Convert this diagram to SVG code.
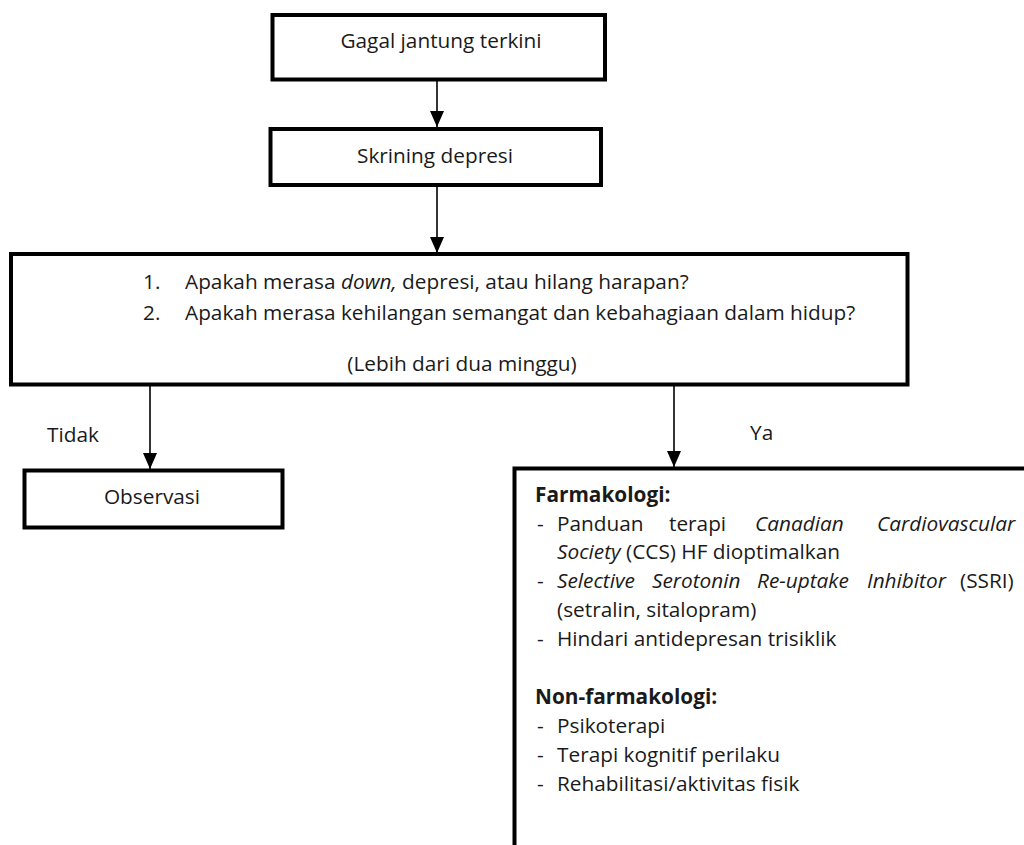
<svg xmlns="http://www.w3.org/2000/svg" width="1024" height="845" viewBox="0 0 1024 845">
<style>
.box{fill:#fff;stroke:#000;stroke-width:4}
.t{font-family:"Open Sans","Noto Sans",sans-serif;font-size:20.8px;fill:#1a1a1a}
.c{text-anchor:middle}
.i{font-style:italic}
.b{font-weight:bold}
.ln{stroke:#000;stroke-width:1.6;fill:none}
</style>
<defs>
<marker id="ah" markerUnits="userSpaceOnUse" markerWidth="16" markerHeight="14" refX="16" refY="7" orient="auto">
<path d="M0,0 L16,7 L0,14 Z" fill="#000"/>
</marker>
</defs>
<rect width="1024" height="845" fill="#fff"/>
<g id="connectors">
<line class="ln" x1="437" y1="81" x2="437" y2="127" marker-end="url(#ah)"/>
<line class="ln" x1="437" y1="187" x2="437" y2="253" marker-end="url(#ah)"/>
<line class="ln" x1="150" y1="386" x2="150" y2="469" marker-end="url(#ah)"/>
<line class="ln" x1="674" y1="386" x2="674" y2="467" marker-end="url(#ah)"/>
<text class="t" x="47" y="442">Tidak</text>
<text class="t" x="750" y="440">Ya</text>
</g>
<g id="node-gagal">
<rect class="box" x="272.5" y="15" width="332.5" height="64.5"/>
<text class="t c" x="441" y="48">Gagal jantung terkini</text>
</g>
<g id="node-skrining">
<rect class="box" x="270.5" y="129" width="330.5" height="56"/>
<text class="t c" x="435" y="163">Skrining depresi</text>
</g>
<g id="node-pertanyaan">
<rect class="box" x="11" y="254" width="896.5" height="130.5"/>
<text class="t" x="143" y="289">1.</text>
<text class="t" x="185" y="289">Apakah merasa <tspan class="i">down,</tspan> depresi, atau hilang harapan?</text>
<text class="t" x="143" y="320">2.</text>
<text class="t" x="185" y="320">Apakah merasa kehilangan semangat dan kebahagiaan dalam hidup?</text>
<text class="t c" x="462" y="371">(Lebih dari dua minggu)</text>
</g>
<g id="node-observasi">
<rect class="box" x="24.5" y="470.5" width="258" height="57"/>
<text class="t c" x="152" y="504">Observasi</text>
</g>
<g id="node-terapi">
<rect class="box" x="514.5" y="468.5" width="600" height="400"/>
<text class="t b" x="535" y="502">Farmakologi:</text>
<text class="t" x="537" y="531">-</text>
<text class="t" y="531"><tspan x="557">Panduan</tspan><tspan x="669">terapi</tspan><tspan class="i" x="755">Canadian</tspan><tspan class="i" x="877">Cardiovascular</tspan></text>
<text class="t" x="557" y="559"><tspan class="i">Society</tspan> (CCS) HF dioptimalkan</text>
<text class="t" x="537" y="588">-</text>
<text class="t i" y="588"><tspan x="557">Selective</tspan><tspan x="652">Serotonin</tspan><tspan x="757">Re-uptake</tspan><tspan x="867">Inhibitor</tspan></text>
<text class="t" x="960" y="588">(SSRI)</text>
<text class="t" x="557" y="617">(setralin, sitalopram)</text>
<text class="t" x="537" y="646">-</text>
<text class="t" x="557" y="646">Hindari antidepresan trisiklik</text>
<text class="t b" x="535" y="704">Non-farmakologi:</text>
<text class="t" x="537" y="733">-</text>
<text class="t" x="557" y="733">Psikoterapi</text>
<text class="t" x="537" y="762">-</text>
<text class="t" x="557" y="762">Terapi kognitif perilaku</text>
<text class="t" x="537" y="791">-</text>
<text class="t" x="557" y="791">Rehabilitasi/aktivitas fisik</text>
</g>
</svg>
